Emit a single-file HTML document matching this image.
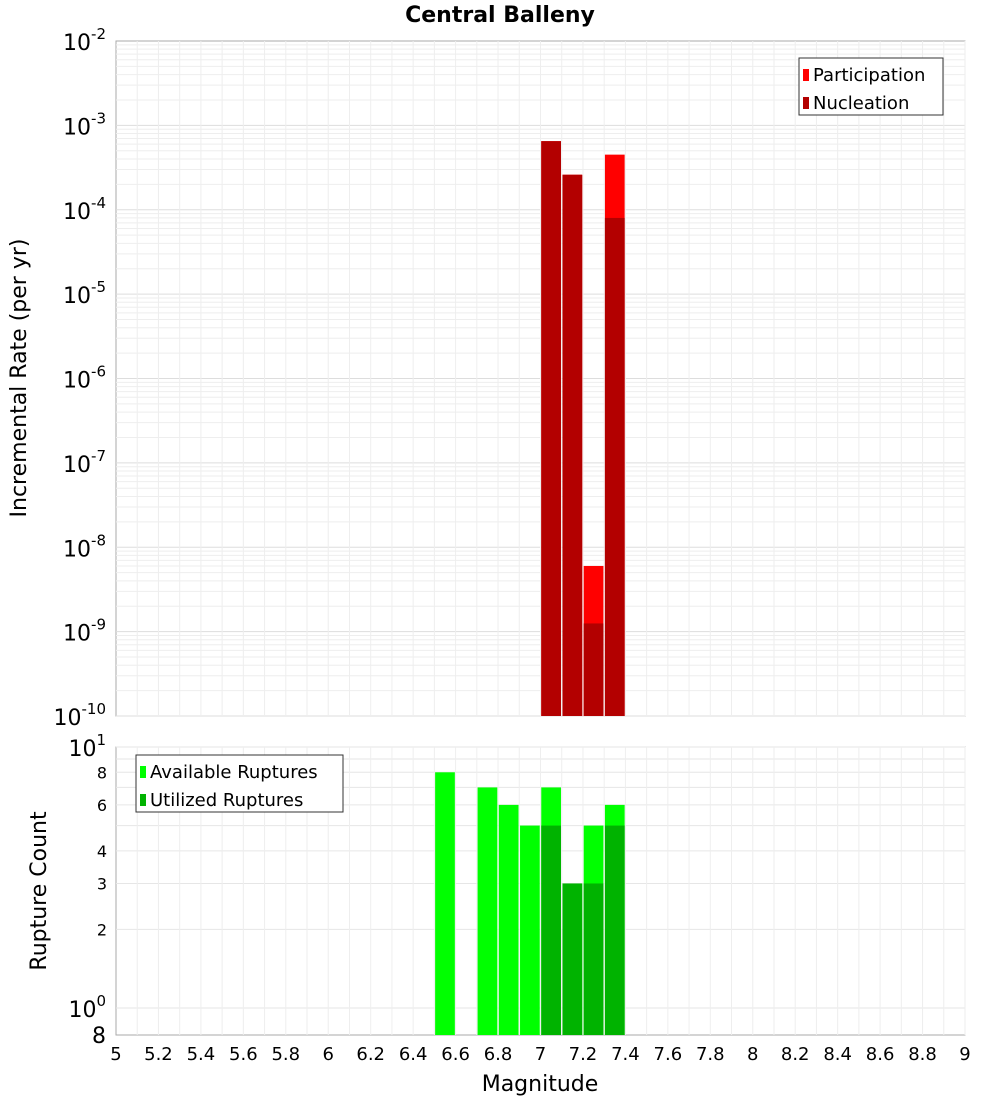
<!DOCTYPE html>
<html><head><meta charset="utf-8"><style>
body{margin:0;background:#fff;font-family:"DejaVu Sans","Liberation Sans",sans-serif}
</style></head><body>
<svg id="c" width="1000" height="1100" xmlns="http://www.w3.org/2000/svg" font-family="DejaVu Sans, Liberation Sans, sans-serif"></svg>
<script>
const magBins=[7.05,7.15,7.25,7.35];
const participation=[6.5e-4,2.6e-4,6e-9,4.5e-4];
const nucleation=[6.5e-4,2.6e-4,1.25e-9,8e-5];
const countBins=[6.55,6.75,6.85,6.95,7.05,7.15,7.25,7.35];
const available=[8,7,6,5,7,3,5,6];
const utilizedBins=[7.05,7.15,7.25,7.35];
const utilized=[5,3,3,5];
const xTicks=[5,5.2,5.4,5.6,5.8,6,6.2,6.4,6.6,6.8,7,7.2,7.4,7.6,7.8,8,8.2,8.4,8.6,8.8,9];
const topExps=[-2,-3,-4,-5,-6,-7,-8,-9,-10];
const botTicks=[8,6,4,3,2];

const S=document.getElementById('c'),NS='http://www.w3.org/2000/svg';
function el(t,a,txt){const e=document.createElementNS(NS,t);for(const k in a)e.setAttribute(k,a[k]);if(txt!=null)e.textContent=txt;S.appendChild(e);return e;}
const L=116,R=965,T1=41,B1=716,T2=747,B2=1035;
const X=m=>L+(m-5)/4*(R-L);
const Y1=v=>T1+(-2-Math.log10(v))*(B1-T1)/8;
const Y2=v=>T2+(1-Math.log10(v))*261;

let e=el('rect',{x:L,y:T1,width:R-L,height:B1-T1,fill:'#fff',stroke:'#aaa'});

e=el('rect',{x:L,y:T2,width:R-L,height:B2-T2,fill:'#fff',stroke:'#aaa'});

// grids
for(let d=-10;d<-2;d++)for(let k=1;k<10;k++){const y=Y1(k*Math.pow(10,d));el('line',{x1:L,x2:R,y1:y,y2:y,stroke:k==1?'#ddd':'#eee'});}
for(let v=1;v<=10;v++){const y=Y2(v);el('line',{x1:L,x2:R,y1:y,y2:y,stroke:'#e6e6e6'});}
for(let m=5.1;m<9;m+=0.1){const x=X(m);el('line',{x1:x,x2:x,y1:T1,y2:B1,stroke:'#eee'});el('line',{x1:x,x2:x,y1:T2,y2:B2,stroke:'#eee'});}
const bw=(X(5.1)-X(5))-1.5;
magBins.forEach((m,i)=>{
 let b=el('rect',{x:X(m)-bw/2,y:Y1(participation[i]),width:bw,height:B1-Y1(participation[i]),fill:'#ff0000'});
 
 b=el('rect',{x:X(m)-bw/2,y:Y1(nucleation[i]),width:bw,height:B1-Y1(nucleation[i]),fill:'#b30000'});
 
});
countBins.forEach((m,i)=>{
 const b=el('rect',{x:X(m)-bw/2,y:Y2(available[i]),width:bw,height:B2-Y2(available[i]),fill:'#00ff00'});
 
});
utilizedBins.forEach((m,i)=>{
 const b=el('rect',{x:X(m)-bw/2,y:Y2(utilized[i]),width:bw,height:B2-Y2(utilized[i]),fill:'#00b300'});
 
});
// top y labels
topExps.forEach(p=>{const y=Y1(Math.pow(10,p));
 const t=el('text',{x:106,y:y+9,'text-anchor':'end','font-size':22});
 
 const a=document.createElementNS(NS,'tspan');a.textContent='10';t.appendChild(a);
 const b=document.createElementNS(NS,'tspan');b.setAttribute('dy','-11');b.setAttribute('font-size','15');b.textContent=String(p);t.appendChild(b);
});
// bottom y labels
let t=el('text',{x:106,y:Y2(10)+9,'text-anchor':'end','font-size':22});

t.innerHTML='<tspan>10</tspan><tspan dy="-11" font-size="15">1</tspan>';
t=el('text',{x:106,y:Y2(1)+9,'text-anchor':'end','font-size':22});

t.innerHTML='<tspan>10</tspan><tspan dy="-11" font-size="15">0</tspan>';
botTicks.forEach(v=>{const t=el('text',{x:107,y:Y2(v)+6,'text-anchor':'end','font-size':16},String(v));
 });
t=el('text',{x:106,y:1043,'text-anchor':'end','font-size':22},'8');

xTicks.forEach(v=>{const t=el('text',{x:X(v),y:1060,'text-anchor':'middle','font-size':18},String(v));
 });
t=el('text',{x:500,y:22,'text-anchor':'middle','font-size':22,'font-weight':'bold'},'Central Balleny');

t=el('text',{x:540,y:1091,'text-anchor':'middle','font-size':22},'Magnitude');

t=el('text',{x:0,y:0,'text-anchor':'middle','font-size':22,transform:'translate(26,378) rotate(-90)'},'Incremental Rate (per yr)');

t=el('text',{x:0,y:0,'text-anchor':'middle','font-size':22,transform:'translate(46,891) rotate(-90)'},'Rupture Count');

// legends
function legend(x,y,w,items,nm){const g=el('rect',{x:x,y:y,width:w,height:57,fill:'#fff',stroke:'#333'});
 
 items.forEach((it,i)=>{el('rect',{x:x+4,y:y+11+i*28,width:6,height:12,fill:it[1]});
  const t=el('text',{x:x+14,y:y+23+i*28,'font-size':18},it[0]);
  });}
legend(799,58,144,[['Participation','#ff0000'],['Nucleation','#b30000']],'legend-top');
legend(136,755,207,[['Available Ruptures','#00ff00'],['Utilized Ruptures','#00b300']],'legend-bottom');
</script>
</body></html>
